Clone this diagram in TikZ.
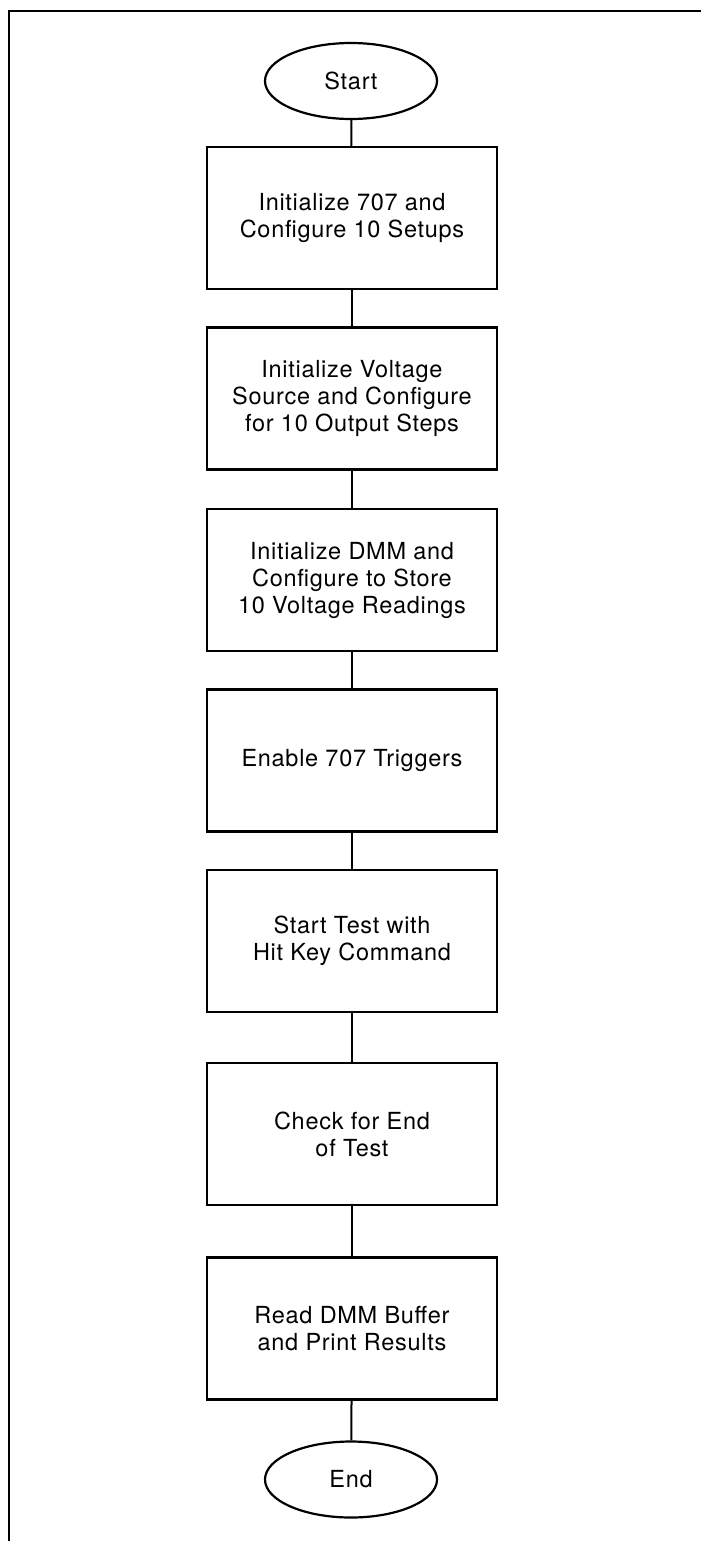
\documentclass[tikz,border=0pt]{standalone}
\usepackage{fontspec}
\setmainfont{TeX Gyre Heros}[LetterSpace=3]
\usetikzlibrary{shapes.geometric}

\tikzset{
  stepbox/.style={draw, line width=2.2pt, minimum width=290pt, minimum height=142pt,
    align=center, inner sep=0pt, font=\fontsize{23.5}{27}\selectfont},
  terminal/.style={draw, ellipse, line width=2.2pt, minimum width=172pt, minimum height=76pt,
    inner sep=0pt, font=\fontsize{23.5}{27}\selectfont},
  link/.style={line width=2pt},
}

\begin{document}
\begin{tikzpicture}[x=1pt, y=-1pt]
  \useasboundingbox (0,0) rectangle (701,1541);
  % frame
  \draw[line width=2pt] (701,11) -| (9,1541);

  \node[terminal] (start) at (351,81) {Start};
  \node[stepbox] (init) at (352,218) {Initialize 707 and\\Configure 10 Setups};
  \node[stepbox] (source) at (352,398.5) {Initialize Voltage\\Source and Configure\\for 10 Output Steps};
  \node[stepbox] (dmm) at (352,580) {Initialize DMM and\\Configure to Store\\10 Voltage Readings};
  \node[stepbox] (trig) at (352,760.5) {Enable 707 Triggers};
  \node[stepbox] (hit) at (352,941) {Start Test with\\Hit Key Command};
  \node[stepbox] (check) at (352,1134) {Check for End\\of Test};
  \node[stepbox] (read) at (352,1328.5) {Read DMM Buffer\\and Print Results};
  \node[terminal] (end) at (351,1479.5) {End};

  \draw[link] (start) -- (init);
  \draw[link] (init) -- (source);
  \draw[link] (source) -- (dmm);
  \draw[link] (dmm) -- (trig);
  \draw[link] (trig) -- (hit);
  \draw[link] (hit) -- (check);
  \draw[link] (check) -- (read);
  \draw[link] (read) -- (end);
\end{tikzpicture}
\end{document}
